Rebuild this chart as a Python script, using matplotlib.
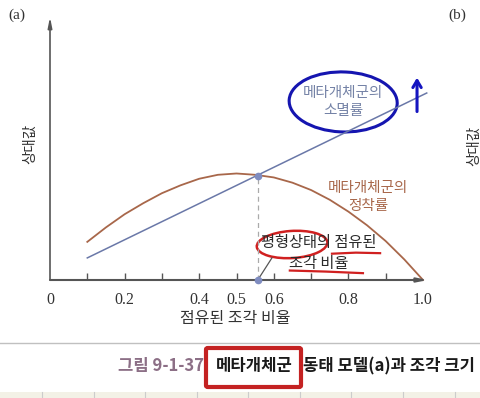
import matplotlib.pyplot as plt
from matplotlib.patches import Ellipse, Rectangle, FancyBboxPatch
from matplotlib.lines import Line2D

# data (x = occupied patch fraction, y = relative value 0..1)
blue_x = [0.1, 1.01]
blue_y = [0.084, 0.711]

red_x = [0.1, 0.15, 0.2, 0.25, 0.3, 0.35, 0.4, 0.45, 0.5, 0.55,
         0.6, 0.65, 0.7, 0.75, 0.8, 0.85, 0.9, 0.95, 1.0]
red_y = [0.145, 0.20, 0.25, 0.292, 0.33, 0.36, 0.385, 0.40, 0.405, 0.40,
         0.39, 0.37, 0.342, 0.305, 0.26, 0.208, 0.148, 0.078, 0.0]

eq_x = 0.557
eq_y = 0.395

tick_pos = [0.1, 0.2, 0.3, 0.4, 0.5, 0.6, 0.7, 0.8, 0.9]
label_pos = [0, 0.2, 0.4, 0.5, 0.6, 0.8, 1.0]
label_txt = ['0', '0.2', '0.4', '0.5', '0.6', '0.8', '1.0']

W, H = 480, 398


def fx(px):
    return px / W


def fy(py):
    return 1 - py / H


plt.rcParams['font.family'] = ['Noto Sans CJK KR', 'DejaVu Sans']

fig = plt.figure(figsize=(4.8, 3.98), dpi=100)
fig.patch.set_facecolor('white')
ax = fig.add_axes([fx(50), fy(280), (428 - 50) / W, (280 - 17) / H])
ax.set_xlim(0, (428 - 50) / 373)
ax.set_ylim(0, 1)
for s in ax.spines.values():
    s.set_visible(False)

# axes with arrow heads
axc = '#555555'
ax.annotate('', xy=(0, 1), xytext=(0, 0), xycoords='axes fraction',
            arrowprops=dict(arrowstyle='-|>,head_length=0.6,head_width=0.12',
                            color=axc, lw=1.2, shrinkA=0, shrinkB=0))
ax.annotate('', xy=(1, 0), xytext=(0, 0), xycoords='axes fraction',
            arrowprops=dict(arrowstyle='-|>,head_length=0.6,head_width=0.12',
                            color=axc, lw=1.5, shrinkA=0, shrinkB=0))

ax.set_xticks(tick_pos)
ax.set_xticklabels([])
ax.tick_params(axis='x', which='major', direction='in', length=5, color=axc, width=1)
ax.set_yticks([])

# tick labels on a second x axis so they do not clash with the tick marks
sec = ax.secondary_xaxis('bottom')
sec.spines['bottom'].set_visible(False)
sec.set_xticks(label_pos)
sec.set_xticklabels(label_txt, family='Liberation Serif', fontsize=11.5, color='#333333')
sec.tick_params(axis='x', length=0, pad=9)

# curves
ax.plot(blue_x, blue_y, color='#6a78a8', lw=1.1, clip_on=False)
ax.plot(red_x, red_y, color='#a8674a', lw=1.3, clip_on=False)
ax.plot([eq_x, eq_x], [0, eq_y], color='#aaaaaa', lw=0.9, ls=(0, (4, 3)))
ax.plot([eq_x, eq_x], [eq_y, 0], 'o', color='#7f8cc0', ms=4.5, clip_on=False, zorder=5)
ax.plot([eq_x, 0.595], [0, 0.084], color='#555555', lw=0.9)

fig.text(fx(235), fy(319), '점유된 조각 비율', ha='center', va='center',
         fontsize=11.5, color='#333333')

# annotations
ax.text(0.786, 0.677, '메타개체군의\n소멸률', ha='center', va='center',
        fontsize=10.5, color='#7482a6', linespacing=1.35)
ax.add_patch(Ellipse((0.786, 0.677), 0.29, 0.228, angle=-4, fill=False,
                     ec='#1515b0', lw=2.2))
ax.annotate('', xy=(0.984, 0.78), xytext=(0.984, 0.63),
            arrowprops=dict(arrowstyle='->,head_length=0.5,head_width=0.3',
                            color='#1515c0', lw=2.2))
ax.text(0.853, 0.316, '메타개체군의\n정착률', ha='center', va='center',
        fontsize=10.5, color='#a8674a', linespacing=1.35)
ax.text(0.721, 0.103, '평형상태의 점유된\n조각 비율', ha='center', va='center',
        fontsize=11, color='#2a2a2a', linespacing=1.3)
ax.add_patch(Ellipse((0.649, 0.135), 0.19, 0.103, angle=6, fill=False,
                     ec='#d02020', lw=1.8))
ax.plot([0.756, 0.82, 0.885], [0.100, 0.104, 0.102], color='#d02020', lw=1.6)
ax.plot([0.643, 0.74, 0.839], [0.036, 0.032, 0.026], color='#d02020', lw=1.6)

# figure texts
fig.text(fx(30), fy(144), '상대값', rotation=90, ha='center', va='center',
         fontsize=10.5, color='#333333')
fig.text(fx(474), fy(146), '상대값', rotation=90, ha='center', va='center',
         fontsize=10.5, color='#333333')
fig.text(fx(17), fy(15), '(a)', ha='center', va='center',
         family='Liberation Serif', fontsize=11, color='#333333')
fig.text(fx(457), fy(15), '(b)', ha='center', va='center',
         family='Liberation Serif', fontsize=11, color='#333333')

# caption area
fig.add_artist(Line2D([0, 1], [fy(343), fy(343)], transform=fig.transFigure,
                      color='#c0c0c0', lw=1))
fig.text(fx(204), fy(366), '그림 9-1-37', ha='right', va='center',
         fontsize=12, weight='bold', color='#8c6f86')
fig.text(fx(254), fy(366), '메타개체군', ha='center', va='center',
         fontsize=12, weight='bold', color='#1a1a1a')
fig.text(fx(303), fy(366), '동태 모델(a)과 조각 크기', ha='left', va='center',
         fontsize=12, weight='bold', color='#1a1a1a')
fig.add_artist(FancyBboxPatch((fx(206), fy(387)), fx(301) - fx(206), fy(348) - fy(387),
                              boxstyle='round,pad=0,rounding_size=0.004',
                              transform=fig.transFigure, fill=False,
                              ec='#c42222', lw=3))
fig.add_artist(Rectangle((0, 0), 1, fy(392), transform=fig.transFigure,
                         color='#f3f1e6', lw=0))
for px in [42, 94, 145, 197, 248, 300, 351, 403, 455]:
    fig.add_artist(Line2D([fx(px), fx(px)], [0, fy(392)], transform=fig.transFigure,
                          color='#cccccc', lw=0.8))

fig.savefig('out.png', dpi=100, facecolor='white')
